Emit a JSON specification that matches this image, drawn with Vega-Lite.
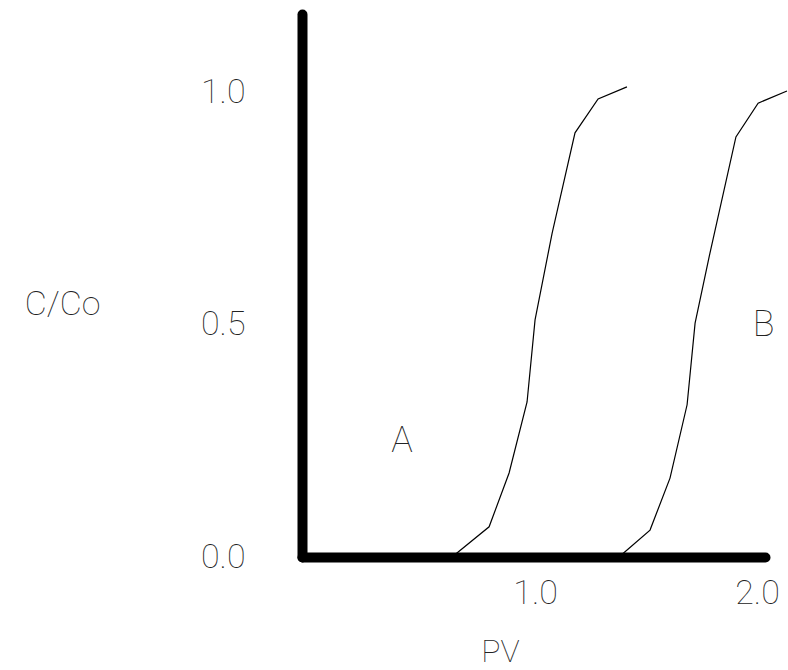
{
  "$schema": "https://vega.github.io/schema/vega-lite/v6.json",
  "width": 463,
  "height": 543,
  "autosize": {"type": "none"},
  "padding": {"left": 302, "top": 14, "right": 23, "bottom": 113},
  "background": "white",
  "config": {"view": {"stroke": null}, "font": "Roboto"},
  "layer": [
    {
      "data": {"values": [
        {"curve": "A", "i": 0, "pv": 0.626, "c": 0.0},
        {"curve": "A", "i": 1, "pv": 0.793, "c": 0.065},
        {"curve": "A", "i": 2, "pv": 0.883, "c": 0.181},
        {"curve": "A", "i": 3, "pv": 0.964, "c": 0.334},
        {"curve": "A", "i": 4, "pv": 1.0, "c": 0.511},
        {"curve": "A", "i": 5, "pv": 1.077, "c": 0.698},
        {"curve": "A", "i": 6, "pv": 1.18, "c": 0.914},
        {"curve": "A", "i": 7, "pv": 1.284, "c": 0.987},
        {"curve": "A", "i": 8, "pv": 1.414, "c": 1.013},
        {"curve": "B", "i": 0, "pv": 1.378, "c": 0.0},
        {"curve": "B", "i": 1, "pv": 1.518, "c": 0.058},
        {"curve": "B", "i": 2, "pv": 1.608, "c": 0.17},
        {"curve": "B", "i": 3, "pv": 1.685, "c": 0.328},
        {"curve": "B", "i": 4, "pv": 1.721, "c": 0.504},
        {"curve": "B", "i": 5, "pv": 1.788, "c": 0.655},
        {"curve": "B", "i": 6, "pv": 1.905, "c": 0.905},
        {"curve": "B", "i": 7, "pv": 2.005, "c": 0.978},
        {"curve": "B", "i": 8, "pv": 2.135, "c": 1.004}
      ]},
      "mark": {"type": "line", "color": "black", "strokeWidth": 1.2, "clip": false},
      "encoding": {
        "x": {
          "field": "pv", "type": "quantitative",
          "scale": {"domain": [-0.05, 2.036], "nice": false, "zero": false},
          "axis": {
            "title": "PV", "values": [1, 2], "format": ".1f",
            "ticks": false, "tickSize": 0, "grid": false,
            "domainColor": "black", "domainWidth": 10, "domainCap": "round",
            "labelFont": "Roboto", "labelFontSize": 34, "labelFontWeight": 100, "labelColor": "#222",
            "labelPadding": 36, "labelBaseline": "middle", "labelAlign": "center",
            "labelFlush": false, "labelOverlap": false,
            "titleFont": "Roboto", "titleFontSize": 32, "titleFontWeight": 100, "titleColor": "#222",
            "titleX": 198, "titleY": 94, "titleAlign": "center", "titleBaseline": "middle"
          }
        },
        "y": {
          "field": "c", "type": "quantitative",
          "scale": {"domain": [0, 1.17], "nice": false, "zero": false},
          "axis": {
            "title": "C/Co", "values": [0, 0.5, 1], "format": ".1f",
            "ticks": false, "tickSize": 0, "grid": false,
            "domainColor": "black", "domainWidth": 10, "domainCap": "round",
            "labelFont": "Roboto", "labelFontSize": 34, "labelFontWeight": 100, "labelColor": "#222",
            "labelPadding": 57, "labelAlign": "right", "labelBaseline": "middle",
            "labelFlush": false, "labelOverlap": false,
            "titleFont": "Roboto", "titleFontSize": 34, "titleFontWeight": 100, "titleColor": "#222",
            "titleAngle": 0, "titleX": -240, "titleY": 290, "titleAlign": "center", "titleBaseline": "middle"
          }
        },
        "detail": {"field": "curve"},
        "order": {"field": "i"}
      }
    },
    {
      "data": {"values": [
        {"label": "A", "pv": 0.40, "c": 0.25},
        {"label": "B", "pv": 2.03, "c": 0.5}
      ]},
      "mark": {"type": "text", "font": "Roboto", "fontSize": 36, "fontWeight": 100, "color": "#222", "align": "center", "baseline": "middle"},
      "encoding": {
        "x": {"field": "pv", "type": "quantitative"},
        "y": {"field": "c", "type": "quantitative"},
        "text": {"field": "label"}
      }
    }
  ]
}
